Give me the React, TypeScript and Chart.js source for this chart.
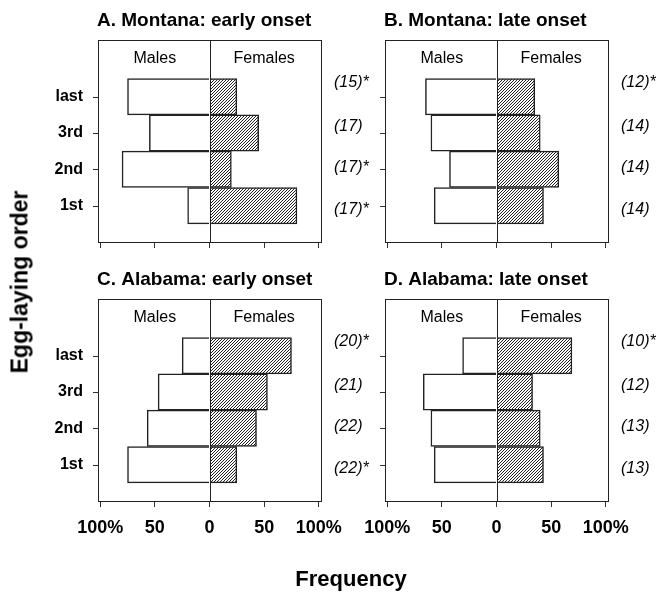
import React, { useEffect, useRef } from 'react';
import { Chart, registerables } from 'chart.js';

Chart.register(...registerables);

const FONT = '"Liberation Sans", Arial, Helvetica, sans-serif';
Chart.defaults.font.family = FONT;

// ---- data ----
const ORDER_LABELS = ['1st', '2nd', '3rd', 'last'];
const ORDER_POS = [1, 2, 3, 4];
const X_TICKS = [-100, -50, 0, 50, 100];

const A_MALES = [20, 80, 55, 75];
const A_FEMALES = [80, 20, 45, 25];
const A_N = ['(17)*', '(17)*', '(17)', '(15)*'];

const B_MALES = [57, 43, 60, 65];
const B_FEMALES = [43, 57, 40, 35];
const B_N = ['(14)', '(14)', '(14)', '(12)*'];

const C_MALES = [75, 57, 47, 25];
const C_FEMALES = [25, 43, 53, 75];
const C_N = ['(22)*', '(22)', '(21)', '(20)*'];

const D_MALES = [57, 60, 67, 31];
const D_FEMALES = [43, 40, 33, 69];
const D_N = ['(13)', '(13)', '(12)', '(10)*'];

// ---- layout ----
const W = 658;
const H = 592;
const Y_AXIS_W = 70;
const X_AXIS_H = 40;
const Y_MAX = 5.56;
const SEX_LABEL_POS = 5.05;
const N_LABEL_POS = [0.89, 2.05, 3.17, 4.38];

type Area = { left: number; top: number; right: number; bottom: number };
type PanelCfg = {
  title: string;
  males: number[];
  females: number[];
  n: string[];
  area: Area;
  xLabels: boolean;
  yLabels: boolean;
};

const PANELS: PanelCfg[] = [
  { title: 'A. Montana: early onset', males: A_MALES, females: A_FEMALES, n: A_N, area: { left: 98, top: 40, right: 321, bottom: 242 }, xLabels: false, yLabels: true },
  { title: 'B. Montana: late onset', males: B_MALES, females: B_FEMALES, n: B_N, area: { left: 385, top: 40, right: 608, bottom: 242 }, xLabels: false, yLabels: false },
  { title: 'C. Alabama: early onset', males: C_MALES, females: C_FEMALES, n: C_N, area: { left: 98, top: 299, right: 321, bottom: 501 }, xLabels: true, yLabels: true },
  { title: 'D. Alabama: late onset', males: D_MALES, females: D_FEMALES, n: D_N, area: { left: 385, top: 299, right: 608, bottom: 501 }, xLabels: true, yLabels: false },
];

function makeHatch(): CanvasPattern | string {
  const c = document.createElement('canvas');
  c.width = 3;
  c.height = 3;
  const g = c.getContext('2d');
  if (!g) return '#999';
  g.fillStyle = '#ffffff';
  g.fillRect(0, 0, 3, 3);
  g.fillStyle = '#222222';
  for (let i = 0; i < 3; i++) g.fillRect(i, 2 - i, 1, 1);
  return g.createPattern(c, 'repeat') || '#999';
}

function Panel({ cfg }: { cfg: PanelCfg }) {
  const ref = useRef<HTMLCanvasElement>(null);
  useEffect(() => {
    const canvas = ref.current;
    if (!canvas) return;
    const hatch = makeHatch();
    const a = cfg.area;

    const decor = {
      id: 'panelDecor',
      afterDraw(chart: any) {
        const { ctx, chartArea } = chart;
        const xs = chart.scales.x;
        const ys = chart.scales.y;
        ctx.save();
        ctx.strokeStyle = '#222';
        ctx.lineWidth = 1;
        ctx.strokeRect(chartArea.left + 0.5, chartArea.top + 0.5, chartArea.right - chartArea.left, chartArea.bottom - chartArea.top);

        const x0 = Math.round(xs.getPixelForValue(0)) + 0.5;
        ctx.beginPath();
        ctx.moveTo(x0, chartArea.top);
        ctx.lineTo(x0, chartArea.bottom);
        ctx.stroke();

        // y tick marks
        ctx.strokeStyle = '#333';
        ORDER_POS.forEach((v) => {
          const y = Math.round(ys.getPixelForValue(v)) + 0.5;
          ctx.beginPath();
          ctx.moveTo(chartArea.left - 5, y);
          ctx.lineTo(chartArea.left, y);
          ctx.stroke();
        });

        ctx.fillStyle = '#000';
        ctx.font = `bold 19px ${FONT}`;
        ctx.textAlign = 'left';
        ctx.textBaseline = 'middle';
        ctx.fillText(cfg.title, chartArea.left - 1, chartArea.top - 19.5);

        ctx.font = `16px ${FONT}`;
        ctx.textAlign = 'center';
        const sy = ys.getPixelForValue(SEX_LABEL_POS);
        ctx.fillText('Males', xs.getPixelForValue(-50), sy);
        ctx.fillText('Females', xs.getPixelForValue(50), sy);

        ctx.font = `italic 16px ${FONT}`;
        ctx.textAlign = 'left';
        cfg.n.forEach((t, i) => {
          ctx.fillText(t, chartArea.right + 13, ys.getPixelForValue(N_LABEL_POS[i]));
        });
        ctx.restore();
      },
    };

    const chart = new Chart(canvas, {
      type: 'bar',
      data: {
        datasets: [
          {
            label: 'Males',
            data: cfg.males.map((v, i) => ({ x: -v, y: ORDER_POS[i] })),
            backgroundColor: '#ffffff',
            borderColor: '#222',
            borderWidth: 1.5,
            borderSkipped: 'start',
            barPercentage: 1,
            categoryPercentage: 1,
          },
          {
            label: 'Females',
            data: cfg.females.map((v, i) => ({ x: v, y: ORDER_POS[i] })),
            backgroundColor: hatch as any,
            borderColor: '#222',
            borderWidth: 1.5,
            borderSkipped: 'start',
            barPercentage: 1,
            categoryPercentage: 1,
          },
        ],
      },
      options: {
        indexAxis: 'y',
        responsive: false,
        animation: false,
        devicePixelRatio: 1,
        layout: {
          padding: {
            left: a.left - Y_AXIS_W,
            right: W - a.right,
            top: a.top,
            bottom: H - a.bottom - X_AXIS_H,
          },
        },
        plugins: {
          legend: { display: false },
          tooltip: { enabled: false },
          title: { display: false },
        },
        scales: {
          x: {
            type: 'linear',
            min: -102,
            max: 102,
            stacked: true,
            offset: false,
            afterBuildTicks: (s: any) => {
              s.ticks = X_TICKS.map((v) => ({ value: v }));
            },
            afterFit: (s: any) => {
              s.height = X_AXIS_H;
              s.paddingLeft = 0;
              s.paddingRight = 0;
            },
            border: { display: false },
            grid: {
              offset: false,
              drawOnChartArea: false,
              drawTicks: true,
              tickLength: 6,
              tickColor: '#333',
              tickWidth: 1,
            },
            ticks: {
              display: cfg.xLabels,
              autoSkip: false,
              maxRotation: 0,
              minRotation: 0,
              padding: 10,
              color: '#000',
              font: { size: 18, weight: 'bold' },
              callback: (v: any) => (v === 0 ? '0' : Math.abs(v) === 100 ? '100%' : String(Math.abs(v))),
            },
          },
          y: {
            type: 'linear',
            min: 0,
            max: Y_MAX,
            stacked: true,
            offset: false,
            afterBuildTicks: (s: any) => {
              s.ticks = ORDER_POS.map((v) => ({ value: v }));
            },
            afterFit: (s: any) => {
              s.width = Y_AXIS_W;
              s.paddingTop = 0;
              s.paddingBottom = 0;
            },
            border: { display: false },
            grid: {
              offset: false,
              drawOnChartArea: false,
              drawTicks: true,
              tickLength: 5,
              tickColor: 'rgba(0,0,0,0)',
              tickWidth: 1,
            },
            ticks: {
              display: cfg.yLabels,
              autoSkip: false,
              padding: 10,
              color: '#000',
              font: { size: 16, weight: 'bold' },
              callback: (v: any) => {
                const i = ORDER_POS.indexOf(v);
                return i >= 0 ? ORDER_LABELS[i] : '';
              },
            },
          },
        },
      },
      plugins: [decor],
    } as any);
    return () => chart.destroy();
  }, [cfg]);
  return (
    <canvas
      ref={ref}
      width={W}
      height={H}
      style={{ position: 'absolute', left: 0, top: 0, width: W, height: H }}
    />
  );
}

export default function App() {
  return (
    <div
      style={{
        position: 'fixed',
        left: 0,
        top: 0,
        width: W,
        height: H,
        background: '#fff',
        overflow: 'hidden',
        fontFamily: FONT,
      }}
    >
      {PANELS.map((p) => (
        <Panel key={p.title} cfg={p} />
      ))}
      <div
        style={{
          position: 'absolute',
          left: 20,
          top: 282,
          transform: 'translate(-50%, -50%) rotate(-90deg)',
          whiteSpace: 'nowrap',
          fontWeight: 'bold',
          fontSize: 23,
          lineHeight: '23px',
          color: '#000',
        }}
      >
        Egg-laying order
      </div>
      <div
        style={{
          position: 'absolute',
          left: 351,
          top: 568,
          transform: 'translateX(-50%)',
          whiteSpace: 'nowrap',
          fontWeight: 'bold',
          fontSize: 22,
          lineHeight: '22px',
          color: '#000',
        }}
      >
        Frequency
      </div>
    </div>
  );
}
